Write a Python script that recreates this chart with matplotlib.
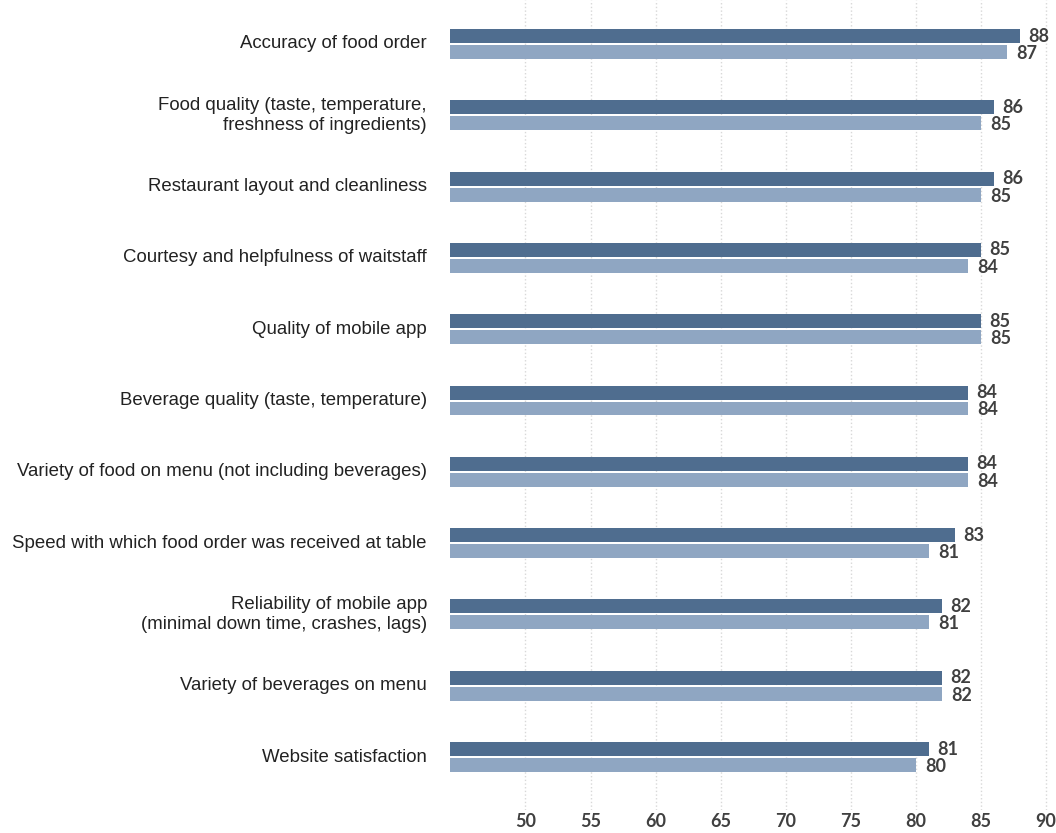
import matplotlib.pyplot as plt
import numpy as np

# Datos
categorias = [
    "Accuracy of food order",
    "Food quality (taste, temperature,\nfreshness of ingredients)",
    "Restaurant layout and cleanliness",
    "Courtesy and helpfulness of waitstaff",
    "Quality of mobile app",
    "Beverage quality (taste, temperature)",
    "Variety of food on menu (not including beverages)",
    "Speed with which food order was received at table",
    "Reliability of mobile app\n(minimal down time, crashes, lags)",
    "Variety of beverages on menu",
    "Website satisfaction",
]
serie_a = [88, 86, 86, 85, 85, 84, 84, 83, 82, 82, 81]
serie_b = [87, 85, 85, 84, 85, 84, 84, 81, 81, 82, 80]
ticks_x = [50, 55, 60, 65, 70, 75, 80, 85, 90]

col_a = "#4f6d8f"
col_b = "#8fa6c2"
col_txt = "#404040"
fuente_num = ['Lato', 'DejaVu Sans']

plt.rcParams['font.family'] = ['Liberation Sans', 'DejaVu Sans']

fig = plt.figure(figsize=(10.56, 8.33), dpi=100)
# ejes: de y=0 a y=810 px, de x=450 a x=1050 px
ax = fig.add_axes([450/1056, 1 - 810/833, 600/1056, 810/833])

n = len(categorias)
y = np.arange(n)
h = 0.196
off = 0.112
ax.barh(y - off, serie_a, height=h, color=col_a, zorder=3)
ax.barh(y + off, serie_b, height=h, color=col_b, zorder=3)

for i in range(n):
    ax.text(serie_a[i] + 0.6, y[i] - off, str(serie_a[i]), va="center", ha="left",
            fontsize=13, fontweight="bold", color=col_txt, family=fuente_num)
    ax.text(serie_b[i] + 0.7, y[i] + off + 0.02, str(serie_b[i]), va="center", ha="left",
            fontsize=13, fontweight="bold", color=col_txt, family=fuente_num)
    ax.text(44.2 - 1.77, y[i], categorias[i], va="center", ha="right",
            fontsize=13.4, color="#222222", linespacing=1.2)

ax.set_xlim(44.2, 90.3)
ax.set_ylim(10.743, -0.617)
ax.set_xticks(ticks_x)
ax.set_xticklabels([str(t) for t in ticks_x], fontsize=13, fontweight="bold",
                   color=col_txt, family=fuente_num)
ax.set_yticks([])
ax.tick_params(axis="x", length=0, pad=2)
for s in ax.spines.values():
    s.set_visible(False)
ax.grid(axis="x", linestyle=":", color="#d8d8d8", linewidth=1, zorder=0)

fig.savefig("out.png", dpi=100)
